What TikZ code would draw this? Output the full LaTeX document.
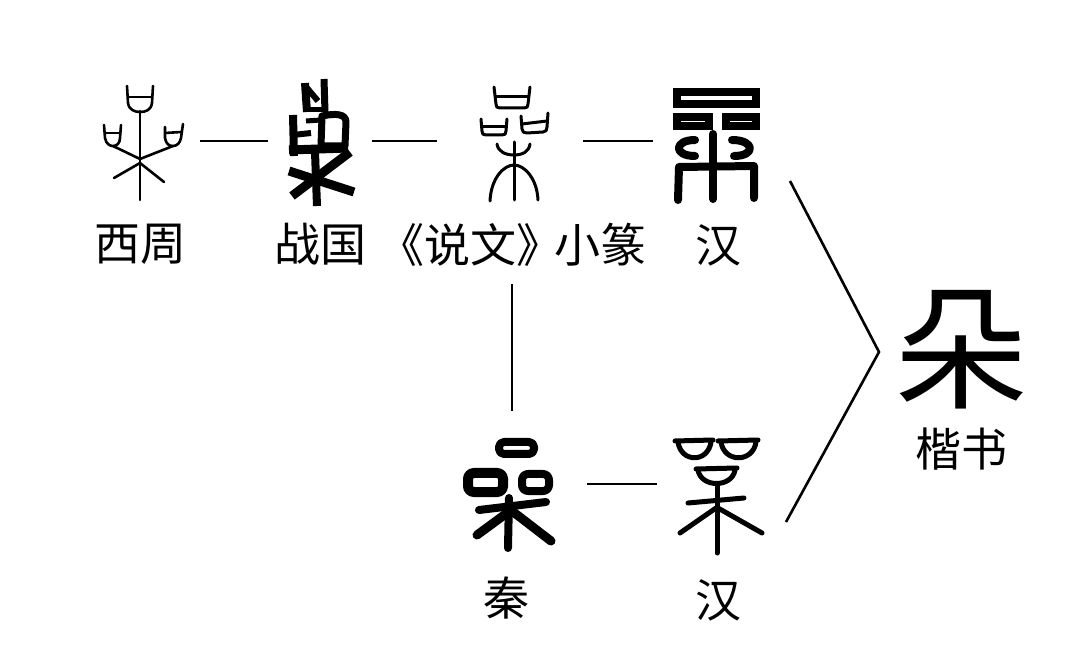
\documentclass[tikz,border=0pt]{standalone}
\usepackage{fontspec}
\newfontfamily\cjk{Noto Sans CJK SC}
\begin{document}
\begin{tikzpicture}[x=1pt,y=-1pt,
  conn/.style={line width=2.6pt},
  gbox/.style={inner sep=0pt, outer sep=0pt, minimum height=120pt},
  lbl/.style={inner sep=0pt, font=\cjk\fontsize{46}{50}\selectfont},
  kai/.style={inner sep=0pt, font=\cjk\fontsize{134}{140}\selectfont},
  fine/.style={line width=2.6pt, line cap=round, line join=round},
  seal/.style={line width=3pt, line cap=round, line join=round},
  heavy/.style={line width=8pt, line cap=butt, line join=round},
  bold/.style={line width=8pt, line cap=round, line join=round},
  medium/.style={line width=5pt, line cap=round, line join=round}]
\fill[white] (0,0) rectangle (1080,668);
\useasboundingbox (0,0) rectangle (1080,668);

% glyph boxes (invisible)
\node[gbox, minimum width=120pt] (g1) at (140,141) {};
\node[gbox, minimum width=104pt] (g2) at (320,141) {};
\node[gbox, minimum width=146pt] (g3) at (510,141) {};
\node[gbox, minimum width=130pt] (g4) at (718,141) {};
\node[gbox, minimum width=158pt] (g5) at (508,484) {};
\node[gbox, minimum width=122pt] (g6) at (718,484) {};

% --- glyph 1: Western Zhou ---
\draw[fine] (140,111) -- (140,200);
\draw[fine] (127,86) -- (128,103) .. controls (129,110) and (135,112) .. (140,112)
  .. controls (146,112) and (151,110) .. (152,103) -- (153,86);
\draw[fine] (128,97) -- (152,97);
\draw[fine] (104,125) -- (105,138) .. controls (106,144) and (110,146) .. (113,146)
  .. controls (117,146) and (120,143) .. (120,138) -- (121,125);
\draw[fine] (105,133) -- (120,133);
\draw[fine] (165,127) -- (165,138) .. controls (166,144) and (169,146) .. (173,146)
  .. controls (177,146) and (180,143) .. (181,138) -- (183,124);
\draw[fine] (165,133) -- (181,132);
\draw[fine] (113,146) -- (140,159);
\draw[fine] (173,146) -- (140,159);
\draw[fine] (140,163) -- (114,178);
\draw[fine] (140,163) -- (164,182);

% --- glyph 2: Warring States ---
\draw[heavy] (305,83) -- (307,112);
\draw[heavy, line width=6pt] (307,88) -- (318,101);
\draw[heavy, line width=7pt] (324,79) -- (325,112);
\draw[heavy, line width=5pt] (304,110) -- (327,110);
\draw[heavy, line width=5pt] (306,121) -- (321,120);
\draw[heavy] (293,115) -- (294,156);
\draw[heavy, line width=6pt] (293,135) -- (311,133);
\draw[heavy, line width=7pt] (322,116) .. controls (336,113) and (346,114) .. (346,122)
  -- (345,146) -- (321,146) -- cycle;
\draw[heavy, line width=9pt] (289,150) -- (348,148);
\draw[heavy] (315,152) -- (317,206);
\draw[heavy, line width=9pt] (289,171) -- (354,192);
\draw[heavy, line width=9pt] (292,196) -- (350,152);

% --- glyph 3: Shuowen small seal ---
\draw[seal] (494,87) -- (496,104) .. controls (496,107) and (497,108) .. (500,108)
  -- (524,108) .. controls (527,108) and (528,107) .. (528,104) -- (530,87);
\draw[seal] (496,97) -- (528,97);
\draw[seal] (481,119) -- (482,131) .. controls (482,134) and (483,135) .. (486,135)
  -- (502,135) .. controls (505,135) and (506,134) .. (506,131) -- (507,119);
\draw[seal] (482,127) -- (506,127);
\draw[seal] (521,116) -- (522,129) .. controls (522,132) and (524,133) .. (527,133)
  -- (543,132) .. controls (546,132) and (547,130) .. (547,127) -- (548,113);
\draw[seal] (522,124) -- (547,121);
\draw[seal] (514,142) -- (514,200);
\draw[seal] (497,144) .. controls (498,152) and (506,155) .. (514,155)
  .. controls (522,155) and (529,152) .. (530,144);
\draw[seal] (490,201) .. controls (491,178) and (504,165) .. (514,165)
  .. controls (524,165) and (537,178) .. (538,200);

% --- glyph 4: Han (clerical, top) ---
\draw[bold, line cap=butt, line join=miter] (677,92) rectangle (756,104);
\draw[bold, line cap=butt, line join=miter] (677,117) rectangle (709,126);
\draw[bold, line cap=butt, line join=miter] (726,117) rectangle (756,126);
\draw[bold] (713,134) -- (713,199);
\draw[bold] (695,140) .. controls (674,140) and (673,156) .. (695,156);
\draw[bold] (732,140) .. controls (755,140) and (756,156) .. (734,156);
\draw[bold] (678,200) -- (679,167) -- (754,166) -- (754,198);

% --- glyph 5: Qin ---
\draw[bold, rounded corners=5pt] (499,442) rectangle (534,454);
\draw[line width=10pt, rounded corners=6pt] (468,473) rectangle (503,492);
\draw[bold, rounded corners=6pt] (522,474) rectangle (549,491);
\draw[bold] (509,498) -- (508,548);
\draw[bold] (479,510) -- (546,502);
\draw[line width=9pt, line cap=round] (507,513) -- (477,535);
\draw[line width=9pt, line cap=round] (512,511) -- (551,541);

% --- glyph 6: Han (bottom) ---
\draw[medium] (675,441) -- (713,440);
\draw[medium] (678,442) .. controls (681,463) and (708,463) .. (711,442);
\draw[medium] (718,441) -- (758,440);
\draw[medium] (721,442) .. controls (724,463) and (753,463) .. (756,442);
\draw[medium] (696,469) -- (737,468);
\draw[medium] (698,470) .. controls (701,488) and (732,488) .. (735,470);
\draw[medium] (688,503) -- (744,498);
\draw[medium] (717,486) -- (717,553);
\draw[medium] (716,508) -- (680,533);
\draw[medium] (718,508) -- (762,533);

% --- regular script ---
\node[kai] (k) at (961,350) {朵};

% --- labels ---
\node[lbl] (l1) at (140,244) {西周};
\node[lbl] (l2) at (320,244) {战国};
\node[lbl, anchor=west] (l3) at (378,245) {《说文》\kern-0.17em 小篆};
\node[lbl] (l4) at (718,245) {汉};
\node[lbl] (l5) at (506,598) {秦};
\node[lbl] (l6) at (718,600) {汉};
\node[lbl] (l7) at (961,449) {楷书};

% --- connectors ---
\draw[conn] (g1.east) -- (g2.west);
\draw[conn] (g2.east) -- (g3.west);
\draw[conn] (g3.east) -- (g4.west);
\draw[conn] (g5.east) -- (g6.west);
\coordinate (v1) at (512,284);
\coordinate (v2) at (512,411);
\draw[conn] (v1) -- (v2);
\coordinate (c1) at (790,181);
\coordinate (c2) at (879,352);
\coordinate (c3) at (786,522);
\draw[conn] (c1) -- (c2) -- (c3);
\end{tikzpicture}
\end{document}
